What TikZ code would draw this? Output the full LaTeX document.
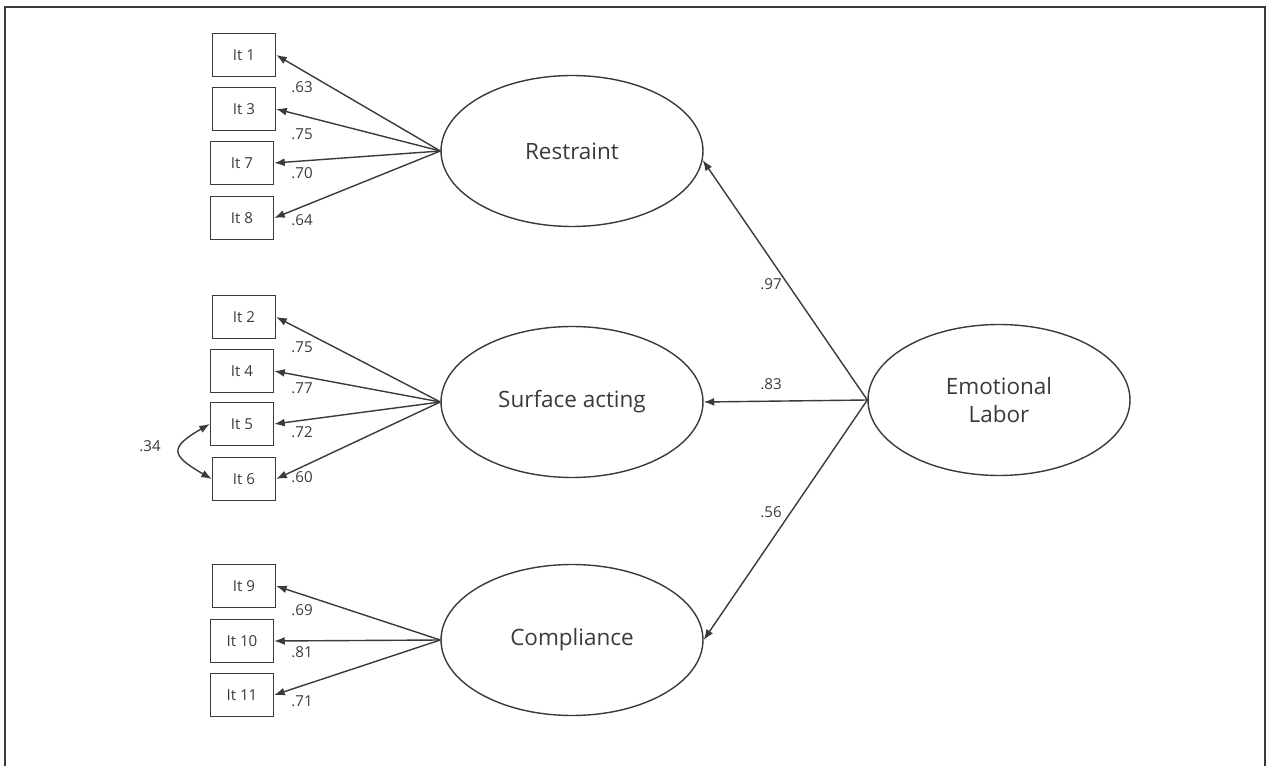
\documentclass[tikz,border=0pt]{standalone}
\usepackage{fontspec}
\setmainfont{Open Sans}
\usetikzlibrary{arrows.meta,shapes.geometric}
\definecolor{inkgray}{HTML}{3A3A3A}
\tikzset{
  item/.style={draw=inkgray, line width=0.8pt, minimum width=1.26cm, minimum height=0.86cm, inner sep=0pt, font=\fontsize{8.6}{10}\selectfont, text=inkgray},
  latent/.style={ellipse, draw=inkgray, line width=0.8pt, minimum width=5.24cm, minimum height=3.02cm, inner sep=0pt, font=\fontsize{12.8}{15.5}\selectfont, text=inkgray, align=center},
  coef/.style={inner sep=0pt, font=\fontsize{8.6}{10}\selectfont, text=inkgray},
  path/.style={draw=inkgray, line width=0.8pt, -{Latex[length=6pt,width=4.5pt]}}
}
\begin{document}
\begin{tikzpicture}[x=0.02cm, y=-0.02cm]
        \useasboundingbox (0,0) rectangle (1271,766);
        \draw[inkgray, line width=1pt] (5,766) -- (5,7) -- (1265,7) -- (1265,766);
        % latent factors
        \node [latent] (restraint) at (572,151) {Restraint};
        \node [latent] (surface) at (572,402) {Surface acting};
        \node [latent] (compliance) at (572,640) {Compliance};
        \node [latent] (emo) at (999,400) {Emotional\\Labor};
        % items
        \node [item] (it1) at (244,55) {It 1};
        \node [item] (it3) at (244,109) {It 3};
        \node [item] (it7) at (242,163) {It 7};
        \node [item] (it8) at (242,218) {It 8};
        \node [item] (it2) at (244,317) {It 2};
        \node [item] (it4) at (242,371) {It 4};
        \node [item] (it5) at (242,424) {It 5};
        \node [item] (it6) at (244,479) {It 6};
        \node [item] (it9) at (244,586) {It 9};
        \node [item] (it10) at (242,641) {It 10};
        \node [item] (it11) at (242,695) {It 11};
        % loadings
        \foreach \it in {it1,it3,it7,it8}
            \draw[path] (restraint.west) -- (\it.east);
        \foreach \it in {it2,it4,it5,it6}
            \draw[path] (surface.west) -- (\it.east);
        \foreach \it in {it9,it10,it11}
            \draw[path] (compliance.west) -- (\it.east);
        \draw[path] (emo.west) -- (restraint.-4);
        \draw[path] (emo.west) -- (surface.east);
        \draw[path] (emo.west) -- (compliance.east);
        \draw[draw=inkgray, line width=0.8pt, {Latex[length=6pt,width=4.5pt]}-{Latex[length=6pt,width=4.5pt]}] (it5.west) to[out=210, in=150, looseness=2.2] (it6.west);
        % coefficients
        \node [coef] (c1) at (302,87) {.63};
        \node [coef] (c3) at (302,134) {.75};
        \node [coef] (c7) at (302,173) {.70};
        \node [coef] (c8) at (302,220) {.64};
        \node [coef] (c2) at (302,347) {.75};
        \node [coef] (c4) at (302,388) {.77};
        \node [coef] (c5) at (302,432) {.72};
        \node [coef] (c6) at (302,477) {.60};
        \node [coef] (c9) at (302,610) {.69};
        \node [coef] (c10) at (302,652) {.81};
        \node [coef] (c11) at (302,701) {.71};
        \node [coef] (r56) at (150,446) {.34};
        \node [coef] (g1) at (771,284) {.97};
        \node [coef] (g2) at (771,384) {.83};
        \node [coef] (g3) at (771,512) {.56};
    \end{tikzpicture}
\end{document}
